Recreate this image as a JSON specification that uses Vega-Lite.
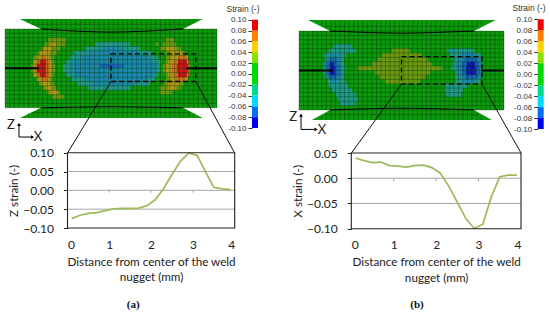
{
"$schema":"https://vega.github.io/schema/vega-lite/v6.json",
"width":550,"height":314,"autosize":"none","padding":0,"background":"white",
"config":{"view":{"stroke":null},"text":{"font":"Lato"},"axis":{"labelFont":"Lato","titleFont":"Lato","labelColor":"#222","titleColor":"#222","grid":false}},
"datasets":{
"meshV":[{"x":-5,"y":-1.86,"y2":1.86},{"x":-4.78,"y":-1.86,"y2":1.86},{"x":-4.56,"y":-1.86,"y2":1.86},{"x":-4.33,"y":-1.86,"y2":1.86},{"x":-4.11,"y":-1.86,"y2":1.86},{"x":-3.89,"y":-1.86,"y2":1.86},{"x":-3.67,"y":-1.86,"y2":1.86},{"x":-3.44,"y":-1.86,"y2":1.86},{"x":-3.22,"y":-2.33,"y2":2.33},{"x":-3,"y":-2.33,"y2":2.33},{"x":-2.78,"y":-2.33,"y2":2.33},{"x":-2.56,"y":-2.33,"y2":2.33},{"x":-2.33,"y":-2.33,"y2":2.33},{"x":-2.11,"y":-2.33,"y2":2.33},{"x":-1.89,"y":-2.33,"y2":2.33},{"x":-1.67,"y":-2.33,"y2":2.33},{"x":-1.44,"y":-2.33,"y2":2.33},{"x":-1.22,"y":-2.33,"y2":2.33},{"x":-1,"y":-2.33,"y2":2.33},{"x":-0.78,"y":-2.33,"y2":2.33},{"x":-0.56,"y":-2.33,"y2":2.33},{"x":-0.33,"y":-2.33,"y2":2.33},{"x":-0.11,"y":-2.33,"y2":2.33},{"x":0.11,"y":-2.33,"y2":2.33},{"x":0.33,"y":-2.33,"y2":2.33},{"x":0.56,"y":-2.33,"y2":2.33},{"x":0.78,"y":-2.33,"y2":2.33},{"x":1,"y":-2.33,"y2":2.33},{"x":1.22,"y":-2.33,"y2":2.33},{"x":1.44,"y":-2.33,"y2":2.33},{"x":1.67,"y":-2.33,"y2":2.33},{"x":1.89,"y":-2.33,"y2":2.33},{"x":2.11,"y":-2.33,"y2":2.33},{"x":2.33,"y":-2.33,"y2":2.33},{"x":2.56,"y":-2.33,"y2":2.33},{"x":2.78,"y":-2.33,"y2":2.33},{"x":3,"y":-2.33,"y2":2.33},{"x":3.22,"y":-2.33,"y2":2.33},{"x":3.44,"y":-1.86,"y2":1.86},{"x":3.67,"y":-1.86,"y2":1.86},{"x":3.89,"y":-1.86,"y2":1.86},{"x":4.11,"y":-1.86,"y2":1.86},{"x":4.33,"y":-1.86,"y2":1.86},{"x":4.56,"y":-1.86,"y2":1.86},{"x":4.78,"y":-1.86,"y2":1.86},{"x":5,"y":-1.86,"y2":1.86},
{"x":-3.44,"y":1.93,"y2":2.33},{"x":-3.67,"y":2.03,"y2":2.33},{"x":-3.89,"y":2.13,"y2":2.33},{"x":3.44,"y":1.93,"y2":2.33},{"x":3.67,"y":2.03,"y2":2.33},{"x":3.89,"y":2.13,"y2":2.33},{"x":-3.44,"y":-2.33,"y2":-1.93},{"x":-3.67,"y":-2.33,"y2":-2.03},{"x":-3.89,"y":-2.33,"y2":-2.13},{"x":3.44,"y":-2.33,"y2":-1.93},{"x":3.67,"y":-2.33,"y2":-2.03},{"x":3.89,"y":-2.33,"y2":-2.13}],
"meshH":[{"y":0.207,"x":-5,"x2":5},{"y":0.414,"x":-5,"x2":5},{"y":0.621,"x":-5,"x2":5},{"y":0.828,"x":-5,"x2":5},{"y":1.035,"x":-5,"x2":5},{"y":1.242,"x":-5,"x2":5},{"y":1.449,"x":-5,"x2":5},{"y":1.656,"x":-5,"x2":5},{"y":1.86,"x":-5,"x2":5},{"y":-0.207,"x":-5,"x2":5},{"y":-0.414,"x":-5,"x2":5},{"y":-0.621,"x":-5,"x2":5},{"y":-0.828,"x":-5,"x2":5},{"y":-1.035,"x":-5,"x2":5},{"y":-1.242,"x":-5,"x2":5},{"y":-1.449,"x":-5,"x2":5},{"y":-1.656,"x":-5,"x2":5},{"y":-1.86,"x":-5,"x2":5},{"y":0,"x":-5,"x2":5},{"y":2.08,"x":-3.75,"x2":3.75},{"y":-2.08,"x":-3.75,"x2":3.75}],
"bands":[{"y":-0.1,"y2":-0.08,"x":0,"x2":1,"s":-0.09},{"y":-0.08,"y2":-0.06,"x":0,"x2":1,"s":-0.07},{"y":-0.06,"y2":-0.04,"x":0,"x2":1,"s":-0.05},{"y":-0.04,"y2":-0.02,"x":0,"x2":1,"s":-0.03},{"y":-0.02,"y2":0.02,"x":0,"x2":1,"s":0},{"y":0.02,"y2":0.04,"x":0,"x2":1,"s":0.03},{"y":0.04,"y2":0.06,"x":0,"x2":1,"s":0.05},{"y":0.06,"y2":0.08,"x":0,"x2":1,"s":0.07},{"y":0.08,"y2":0.1,"x":0,"x2":1,"s":0.09}],
"cellsA":[
{"x":-3.77,"x2":-3.68,"r":"1","s":0.03},{"x":-3.68,"x2":-3.58,"r":"1","s":0.05},{"x":-3.58,"x2":-3.49,"r":"1","s":0.07},{"x":-3.49,"x2":-3.07,"r":"1","s":0.09},{"x":-3.07,"x2":-2.92,"r":"1","s":0.07},{"x":-2.92,"x2":-2.78,"r":"1","s":0.05},{"x":-2.78,"x2":-2.64,"r":"1","s":0.03},
{"x":-3.77,"x2":-3.68,"r":"-1","s":0.03},{"x":-3.68,"x2":-3.58,"r":"-1","s":0.05},{"x":-3.58,"x2":-3.49,"r":"-1","s":0.07},{"x":-3.49,"x2":-3.07,"r":"-1","s":0.09},{"x":-3.07,"x2":-2.92,"r":"-1","s":0.07},{"x":-2.92,"x2":-2.78,"r":"-1","s":0.05},{"x":-2.78,"x2":-2.64,"r":"-1","s":0.03},
{"x":-3.68,"x2":-3.49,"r":"2","s":0.05},{"x":-3.49,"x2":-3.35,"r":"2","s":0.07},{"x":-3.35,"x2":-3.07,"r":"2","s":0.09},{"x":-3.07,"x2":-2.92,"r":"2","s":0.07},{"x":-2.92,"x2":-2.78,"r":"2","s":0.05},{"x":-2.78,"x2":-2.69,"r":"2","s":0.03},
{"x":-3.68,"x2":-3.49,"r":"-2","s":0.05},{"x":-3.49,"x2":-3.35,"r":"-2","s":0.07},{"x":-3.35,"x2":-3.07,"r":"-2","s":0.09},{"x":-3.07,"x2":-2.92,"r":"-2","s":0.07},{"x":-2.92,"x2":-2.78,"r":"-2","s":0.05},{"x":-2.78,"x2":-2.69,"r":"-2","s":0.03},
{"x":-3.68,"x2":-3.49,"r":"3","s":0.03},{"x":-3.49,"x2":-3.3,"r":"3","s":0.05},{"x":-3.3,"x2":-3.07,"r":"3","s":0.07},{"x":-3.07,"x2":-2.88,"r":"3","s":0.05},{"x":-2.88,"x2":-2.69,"r":"3","s":0.03},
{"x":-3.49,"x2":-3.35,"r":"4","s":0.03},{"x":-3.35,"x2":-2.88,"r":"4","s":0.05},{"x":-2.88,"x2":-2.55,"r":"4","s":0.03},
{"x":-3.25,"x2":-3.16,"r":"5","s":0.03},{"x":-3.16,"x2":-2.78,"r":"5","s":0.05},{"x":-2.78,"x2":-2.41,"r":"5","s":0.03},
{"x":-3.11,"x2":-2.88,"r":"6","s":0.03},{"x":-2.88,"x2":-2.59,"r":"6","s":0.05},{"x":-2.59,"x2":-2.17,"r":"6","s":0.03},
{"x":-2.97,"x2":-2.12,"r":"7","s":0.03},
{"x":-3.49,"x2":-3.3,"r":"-3","s":0.05},{"x":-3.3,"x2":-3.02,"r":"-3","s":0.07},{"x":-3.02,"x2":-2.88,"r":"-3","s":0.05},{"x":-2.88,"x2":-2.74,"r":"-3","s":0.03},
{"x":-3.4,"x2":-3.25,"r":"-4","s":0.03},{"x":-3.25,"x2":-2.88,"r":"-4","s":0.05},{"x":-2.88,"x2":-2.69,"r":"-4","s":0.03},
{"x":-3.21,"x2":-3.07,"r":"-5","s":0.03},{"x":-3.07,"x2":-2.74,"r":"-5","s":0.05},{"x":-2.74,"x2":-2.59,"r":"-5","s":0.03},
{"x":-3.02,"x2":-2.88,"r":"-6","s":0.03},{"x":-2.88,"x2":-2.5,"r":"-6","s":0.05},{"x":-2.5,"x2":-2.41,"r":"-6","s":0.03},
{"x":-2.78,"x2":-2.22,"r":"-7","s":0.03},
{"x":-2.26,"x2":-1.93,"r":"1","s":-0.03},{"x":-1.93,"x2":-0.52,"r":"1","s":-0.05},{"x":-0.52,"x2":0.61,"r":"1","s":-0.07},{"x":0.61,"x2":2.08,"r":"1","s":-0.05},{"x":2.08,"x2":2.31,"r":"1","s":-0.03},
{"x":-2.12,"x2":-1.75,"r":"2","s":-0.03},{"x":-1.75,"x2":1.98,"r":"2","s":-0.05},{"x":1.98,"x2":2.31,"r":"2","s":-0.03},
{"x":-1.93,"x2":-1.37,"r":"3","s":-0.03},{"x":-1.37,"x2":1.84,"r":"3","s":-0.05},{"x":1.84,"x2":2.22,"r":"3","s":-0.03},
{"x":-1.75,"x2":-0.99,"r":"4","s":-0.03},{"x":-0.99,"x2":1.37,"r":"4","s":-0.05},{"x":1.37,"x2":1.93,"r":"4","s":-0.03},
{"x":-1.23,"x2":-0.42,"r":"5","s":-0.03},{"x":-0.42,"x2":0.52,"r":"5","s":-0.05},{"x":0.52,"x2":1.37,"r":"5","s":-0.03},
{"x":-0.75,"x2":0.9,"r":"6","s":-0.03},
{"x":-2.26,"x2":-1.84,"r":"-1","s":-0.03},{"x":-1.84,"x2":2.08,"r":"-1","s":-0.05},{"x":2.08,"x2":2.31,"r":"-1","s":-0.03},
{"x":-2.12,"x2":-1.65,"r":"-2","s":-0.03},{"x":-1.65,"x2":1.98,"r":"-2","s":-0.05},{"x":1.98,"x2":2.22,"r":"-2","s":-0.03},
{"x":-1.84,"x2":-1.27,"r":"-3","s":-0.03},{"x":-1.27,"x2":1.75,"r":"-3","s":-0.05},{"x":1.75,"x2":2.12,"r":"-3","s":-0.03},
{"x":-1.56,"x2":-0.9,"r":"-4","s":-0.03},{"x":-0.9,"x2":1.13,"r":"-4","s":-0.05},{"x":1.13,"x2":1.84,"r":"-4","s":-0.03},
{"x":-1.08,"x2":0.9,"r":"-5","s":-0.03},
{"x":2.45,"x2":2.59,"r":"1","s":0.03},{"x":2.59,"x2":2.88,"r":"1","s":0.05},{"x":2.88,"x2":3.11,"r":"1","s":0.07},{"x":3.11,"x2":3.63,"r":"1","s":0.09},{"x":3.63,"x2":3.73,"r":"1","s":0.07},
{"x":2.45,"x2":2.59,"r":"-1","s":0.03},{"x":2.59,"x2":2.88,"r":"-1","s":0.05},{"x":2.88,"x2":3.11,"r":"-1","s":0.07},{"x":3.11,"x2":3.63,"r":"-1","s":0.09},{"x":3.63,"x2":3.73,"r":"-1","s":0.07},
{"x":2.55,"x2":2.69,"r":"2","s":0.03},{"x":2.69,"x2":2.97,"r":"2","s":0.05},{"x":2.97,"x2":3.16,"r":"2","s":0.07},{"x":3.16,"x2":3.58,"r":"2","s":0.09},{"x":3.58,"x2":3.68,"r":"2","s":0.07},
{"x":2.55,"x2":2.69,"r":"-2","s":0.03},{"x":2.69,"x2":2.97,"r":"-2","s":0.05},{"x":2.97,"x2":3.16,"r":"-2","s":0.07},{"x":3.16,"x2":3.58,"r":"-2","s":0.09},{"x":3.58,"x2":3.68,"r":"-2","s":0.07},
{"x":2.59,"x2":2.78,"r":"3","s":0.03},{"x":2.78,"x2":3.16,"r":"3","s":0.05},{"x":3.16,"x2":3.54,"r":"3","s":0.07},{"x":3.54,"x2":3.63,"r":"3","s":0.05},
{"x":2.55,"x2":2.78,"r":"4","s":0.03},{"x":2.78,"x2":3.35,"r":"4","s":0.05},{"x":3.35,"x2":3.49,"r":"4","s":0.03},
{"x":2.31,"x2":2.59,"r":"5","s":0.03},{"x":2.59,"x2":3.07,"r":"5","s":0.05},{"x":3.07,"x2":3.3,"r":"5","s":0.03},
{"x":2.08,"x2":2.22,"r":"6","s":0.03},{"x":2.45,"x2":3.07,"r":"6","s":0.03},
{"x":2.59,"x2":2.97,"r":"7","s":0.03},
{"x":2.59,"x2":2.78,"r":"-3","s":0.03},{"x":2.78,"x2":3.07,"r":"-3","s":0.05},{"x":3.07,"x2":3.49,"r":"-3","s":0.07},{"x":3.49,"x2":3.63,"r":"-3","s":0.05},
{"x":2.5,"x2":2.69,"r":"-4","s":0.03},{"x":2.69,"x2":3.25,"r":"-4","s":0.05},{"x":3.25,"x2":3.44,"r":"-4","s":0.03},
{"x":2.31,"x2":2.69,"r":"-5","s":0.03},{"x":2.69,"x2":3.07,"r":"-5","s":0.05},{"x":3.07,"x2":3.3,"r":"-5","s":0.03},
{"x":2.31,"x2":2.88,"r":"-6","s":0.03}
],
"cellsB":[
{"x":-3.83,"x2":-3.63,"r":"1","s":-0.05},{"x":-3.63,"x2":-3.49,"r":"1","s":-0.07},{"x":-3.49,"x2":-3.24,"r":"1","s":-0.09},{"x":-3.24,"x2":-3.05,"r":"1","s":-0.07},{"x":-3.05,"x2":-2.9,"r":"1","s":-0.05},{"x":-2.9,"x2":-2.75,"r":"1","s":-0.03},
{"x":-3.83,"x2":-3.63,"r":"-1","s":-0.05},{"x":-3.63,"x2":-3.49,"r":"-1","s":-0.07},{"x":-3.49,"x2":-3.24,"r":"-1","s":-0.09},{"x":-3.24,"x2":-3.05,"r":"-1","s":-0.07},{"x":-3.05,"x2":-2.9,"r":"-1","s":-0.05},{"x":-2.9,"x2":-2.75,"r":"-1","s":-0.03},
{"x":-3.78,"x2":-3.63,"r":"2","s":-0.05},{"x":-3.63,"x2":-3.49,"r":"2","s":-0.07},{"x":-3.49,"x2":-3.29,"r":"2","s":-0.09},{"x":-3.29,"x2":-3.1,"r":"2","s":-0.07},{"x":-3.1,"x2":-2.95,"r":"2","s":-0.05},{"x":-2.95,"x2":-2.8,"r":"2","s":-0.03},
{"x":-3.73,"x2":-3.54,"r":"3","s":-0.05},{"x":-3.54,"x2":-3.14,"r":"3","s":-0.07},{"x":-3.14,"x2":-2.95,"r":"3","s":-0.05},{"x":-2.95,"x2":-2.8,"r":"3","s":-0.03},
{"x":-3.78,"x2":-3.44,"r":"4","s":-0.03},{"x":-3.44,"x2":-3.14,"r":"4","s":-0.05},{"x":-3.14,"x2":-2.71,"r":"4","s":-0.03},
{"x":-3.54,"x2":-2.22,"r":"5","s":-0.03},
{"x":-3.29,"x2":-2.41,"r":"6","s":-0.03},
{"x":-3.73,"x2":-3.54,"r":"-2","s":-0.05},{"x":-3.54,"x2":-3.14,"r":"-2","s":-0.07},{"x":-3.14,"x2":-2.95,"r":"-2","s":-0.05},{"x":-2.95,"x2":-2.8,"r":"-2","s":-0.03},
{"x":-3.59,"x2":-3.39,"r":"-3","s":-0.03},{"x":-3.39,"x2":-3.14,"r":"-3","s":-0.05},{"x":-3.14,"x2":-2.75,"r":"-3","s":-0.03},
{"x":-3.54,"x2":-2.61,"r":"-4","s":-0.03},
{"x":-3.39,"x2":-2.41,"r":"-5","s":-0.03},{"x":-3.19,"x2":-2.22,"r":"-6","s":-0.03},{"x":-3.1,"x2":-2.17,"r":"-7","s":-0.03},{"x":-3,"x2":-2.26,"r":"-8","s":-0.03},
{"x":2.46,"x2":2.66,"r":"1","s":-0.03},{"x":2.66,"x2":2.9,"r":"1","s":-0.05},{"x":2.9,"x2":3.15,"r":"1","s":-0.07},{"x":3.15,"x2":3.63,"r":"1","s":-0.09},{"x":3.63,"x2":3.83,"r":"1","s":-0.07},{"x":3.83,"x2":3.93,"r":"1","s":-0.05},
{"x":2.51,"x2":2.66,"r":"2","s":-0.03},{"x":2.66,"x2":2.95,"r":"2","s":-0.05},{"x":2.95,"x2":3.2,"r":"2","s":-0.07},{"x":3.2,"x2":3.59,"r":"2","s":-0.09},{"x":3.59,"x2":3.78,"r":"2","s":-0.07},{"x":3.78,"x2":3.93,"r":"2","s":-0.05},
{"x":2.51,"x2":2.76,"r":"3","s":-0.03},{"x":2.76,"x2":3.05,"r":"3","s":-0.05},{"x":3.05,"x2":3.68,"r":"3","s":-0.07},{"x":3.68,"x2":3.88,"r":"3","s":-0.05},
{"x":2.32,"x2":2.85,"r":"4","s":-0.03},{"x":2.85,"x2":3.63,"r":"4","s":-0.05},{"x":3.63,"x2":3.88,"r":"4","s":-0.03},
{"x":2.22,"x2":3.54,"r":"5","s":-0.03},
{"x":2.61,"x2":2.76,"r":"-1","s":-0.03},{"x":2.76,"x2":2.95,"r":"-1","s":-0.05},{"x":2.95,"x2":3.15,"r":"-1","s":-0.07},{"x":3.15,"x2":3.63,"r":"-1","s":-0.09},{"x":3.63,"x2":3.83,"r":"-1","s":-0.07},{"x":3.83,"x2":3.93,"r":"-1","s":-0.05},
{"x":2.61,"x2":2.8,"r":"-2","s":-0.03},{"x":2.8,"x2":3.1,"r":"-2","s":-0.05},{"x":3.1,"x2":3.73,"r":"-2","s":-0.07},{"x":3.73,"x2":3.88,"r":"-2","s":-0.05},
{"x":2.66,"x2":2.95,"r":"-3","s":-0.03},{"x":2.95,"x2":3.54,"r":"-3","s":-0.05},{"x":3.54,"x2":3.83,"r":"-3","s":-0.03},
{"x":2.17,"x2":3.24,"r":"-4","s":-0.03},{"x":2.12,"x2":3,"r":"-5","s":-0.03},{"x":2.17,"x2":2.9,"r":"-6","s":-0.03},
{"x":-2.12,"x2":1.98,"r":"1","s":0.03},{"x":-1.44,"x2":1.49,"r":"2","s":0.03},{"x":-1.15,"x2":1.29,"r":"3","s":0.03},{"x":-0.95,"x2":1,"r":"4","s":0.03},{"x":-0.46,"x2":0.41,"r":"5","s":0.03},
{"x":-1.29,"x2":1.39,"r":"-1","s":0.03},{"x":-1.05,"x2":1.15,"r":"-2","s":0.03},{"x":-0.8,"x2":0.9,"r":"-3","s":0.03}
]
},
"resolve":{"scale":{"x":"independent","y":"independent","color":"independent"},"axis":{"x":"independent","y":"independent"}},
"layer":[
{"encoding":{"x":{"field":"x","type":"quantitative","scale":{"domain":[-5,5],"range":[5,217]},"axis":null},"y":{"field":"y","type":"quantitative","stack":null,"scale":{"domain":[-2,2],"range":[110.75,25.95]},"axis":null}},
 "layer":[
 {"data":{"values":[{"x":-4.3,"y":2.33,"y2":2.33,"t":"top"},{"x":-3.3,"y":2.33,"y2":1.86,"t":"top"},{"x":3.4,"y":2.33,"y2":1.86,"t":"top"},{"x":4.33,"y":2.33,"y2":2.33,"t":"top"},{"x":-4.3,"y":-2.34,"y2":-2.34,"t":"bot"},{"x":-3.3,"y":-2.34,"y2":-1.86,"t":"bot"},{"x":3.4,"y":-2.34,"y2":-1.86,"t":"bot"},{"x":4.33,"y":-2.34,"y2":-2.34,"t":"bot"}]},"mark":{"type":"area","orient":"vertical","color":"#0c9a0c"},"encoding":{"y2":{"field":"y2"},"detail":{"field":"t"}}},
 {"data":{"values":[{"x":-5,"x2":5,"y":-1.86,"y2":1.86}]},"mark":{"type":"rect","color":"#0c9a0c"},"encoding":{"x2":{"field":"x2"},"y2":{"field":"y2"}}}
 ]},
{"data":{"name":"cellsA"},"mark":{"type":"rect"},"encoding":{"x":{"field":"x","type":"quantitative","scale":{"domain":[-5,5],"range":[5,217]},"axis":null},"x2":{"field":"x2"},"y":{"field":"r","type":"ordinal","scale":{"domain":["9","8","7","6","5","4","3","2","1","-1","-2","-3","-4","-5","-6","-7","-8","-9"],"range":[29,107.7],"paddingInner":0,"paddingOuter":0},"axis":null},"color":{"field":"s","type":"quantitative","legend":null,"scale":{"type":"threshold","domain":[-0.08,-0.06,-0.04,-0.02,0.02,0.04,0.06,0.08],"range":["#0e1ea8","#1868b0","#1b8aa8","#1f9a88","#0c9a0c","#6a9a12","#ae9a14","#c8701a","#c81818"]}}}},
{"encoding":{"x":{"field":"x","type":"quantitative","scale":{"domain":[-5,5],"range":[5,217]},"axis":null},"y":{"field":"y","type":"quantitative","stack":null,"scale":{"domain":[-2,2],"range":[110.75,25.95]},"axis":null}},
 "layer":[
 {"data":{"name":"meshV"},"mark":{"type":"rule","color":"#000","opacity":0.38,"strokeWidth":0.7},"encoding":{"y2":{"field":"y2"}}},
 {"data":{"name":"meshH"},"mark":{"type":"rule","color":"#000","opacity":0.38,"strokeWidth":0.7},"encoding":{"x2":{"field":"x2"}}},
 {"data":{"values":[{"x":-3.3,"y":1.86,"c":"t"},{"x":-1.5,"y":1.75,"c":"t"},{"x":0,"y":1.71,"c":"t"},{"x":1.5,"y":1.75,"c":"t"},{"x":3.4,"y":1.86,"c":"t"},{"x":-3.3,"y":-1.86,"c":"b"},{"x":-1.5,"y":-1.83,"c":"b"},{"x":0,"y":-1.81,"c":"b"},{"x":1.5,"y":-1.83,"c":"b"},{"x":3.4,"y":-1.86,"c":"b"}]},"mark":{"type":"line","color":"#000","strokeWidth":1,"interpolate":"monotone"},"encoding":{"detail":{"field":"c"}}},
 {"data":{"values":[{"x":-5,"x2":-3.4,"y":0},{"x":3.55,"x2":5,"y":0}]},"mark":{"type":"rule","color":"#000","strokeWidth":2},"encoding":{"x2":{"field":"x2"}}},
 {"data":{"values":[{"x":0,"x2":4,"y":-0.62,"y2":0.68}]},"mark":{"type":"rect","fill":null,"stroke":"#000","strokeDash":[5,3],"strokeWidth":1.3},"encoding":{"x2":{"field":"x2"},"y2":{"field":"y2"}}},
 {"data":{"values":[{"x":0,"y":-0.62,"x2":-2.05,"y2":-3.99},{"x":4,"y":-0.62,"x2":5.83,"y2":-3.99}]},"mark":{"type":"rule","color":"#111","strokeWidth":1},"encoding":{"x2":{"field":"x2"},"y2":{"field":"y2"}}},
 {"data":{"values":[{"x":-4.34,"x2":-3.75,"y":-3.24,"y2":-3.24},{"x":-4.34,"x2":-4.34,"y":-3.24,"y2":-2.68}]},"mark":{"type":"rule","color":"#000","strokeWidth":1},"encoding":{"x2":{"field":"x2"},"y2":{"field":"y2"}}},
 {"data":{"values":[{"x":-4.34,"y":-2.64}]},"mark":{"type":"point","shape":"triangle-up","filled":true,"size":14,"color":"#000","opacity":1}},
 {"data":{"values":[{"x":-3.7,"y":-3.24}]},"mark":{"type":"point","shape":"triangle-right","filled":true,"size":14,"color":"#000","opacity":1}},
 {"data":{"values":[{"x":-4.72,"y":-2.67,"t":"Z"},{"x":-3.44,"y":-3.24,"t":"X"}]},"mark":{"type":"text","fontSize":13,"color":"#222","font":"Lato"},"encoding":{"text":{"field":"t"}}}
 ]},
{"data":{"name":"bands"},"encoding":{"x":{"field":"x","type":"quantitative","scale":{"domain":[0,1],"range":[252,258]},"axis":null},"y":{"field":"y","type":"quantitative","stack":null,"scale":{"domain":[-0.1,0.1],"range":[128,19.7]},"axis":{"orient":"left","offset":-252,"values":[-0.1,-0.08,-0.06,-0.04,-0.02,0,0.02,0.04,0.06,0.08,0.1],"format":".2f","labelExpr":"replace(datum.label,'−','-')","title":null,"domain":false,"ticks":true,"tickSize":4,"tickColor":"#333","labelPadding":2,"labelFont":"Liberation Sans","labelFontSize":8,"labelColor":"#333"}}},
 "layer":[
 {"mark":{"type":"rect"},"encoding":{"x2":{"field":"x2"},"y2":{"field":"y2"},"color":{"field":"s","type":"quantitative","legend":null,"scale":{"type":"threshold","domain":[-0.08,-0.06,-0.04,-0.02,0.02,0.04,0.06,0.08],"range":["#0000f0","#0070f0","#00d8ff","#00d890","#00d800","#88e000","#ffd000","#ff7f00","#f00000"]}}}},
 {"data":{"values":[{"x":-1.5,"y":0.1205,"t":"Strain (-)"}]},"mark":{"type":"text","font":"Liberation Sans","fontSize":8.5,"color":"#333"},"encoding":{"text":{"field":"t"}}}
 ]},
{"encoding":{"x":{"field":"x","type":"quantitative","scale":{"domain":[0,4],"range":[67.5,234.7]},"axis":{"orient":"bottom","offset":-86,"values":[0,1,2,3,4],"ticks":false,"domain":false,"labelPadding":11,"labelFontSize":12,"title":["Distance from center of the weld","nugget (mm)"],"titleFontSize":11.7,"titleFontWeight":"normal","titlePadding":6,"titleLineHeight":15.7}},"y":{"field":"y","type":"quantitative","stack":null,"scale":{"domain":[-0.1,0.1],"range":[228,152.7]},"axis":{"orient":"left","offset":-67.5,"values":[-0.1,-0.05,0,0.05,0.1],"format":".2f","title":"Z strain (-)","titleFontSize":11.7,"titleFontWeight":"normal","tickSize":4,"tickColor":"#222","domain":false,"labelPadding":10,"labelFontSize":12,"titlePadding":3}}},
 "layer":[
 {"data":{"values":[{"x":0,"x2":4,"y":-0.05},{"x":0,"x2":4,"y":0},{"x":0,"x2":4,"y":0.05}]},"mark":{"type":"rule","color":"#a6a6a6","strokeWidth":1},"encoding":{"x2":{"field":"x2"}}},
 {"data":{"values":[{"x":1,"y":0,"y2":-0.006},{"x":2,"y":0,"y2":-0.006},{"x":3,"y":0,"y2":-0.006}]},"mark":{"type":"rule","color":"#a6a6a6","strokeWidth":1},"encoding":{"y2":{"field":"y2"}}},
 {"data":{"values":[{"x":0.1,"y":-0.075},{"x":0.3,"y":-0.066},{"x":0.5,"y":-0.061},{"x":0.7,"y":-0.059},{"x":0.9,"y":-0.054},{"x":1.1,"y":-0.049},{"x":1.3,"y":-0.048},{"x":1.5,"y":-0.048},{"x":1.7,"y":-0.047},{"x":1.9,"y":-0.041},{"x":2.1,"y":-0.025},{"x":2.3,"y":0.005},{"x":2.5,"y":0.042},{"x":2.7,"y":0.077},{"x":2.9,"y":0.099},{"x":3.1,"y":0.093},{"x":3.3,"y":0.05},{"x":3.5,"y":0.008},{"x":3.7,"y":0.004},{"x":3.9,"y":0.002}]},"mark":{"type":"line","color":"#9bbb59","strokeWidth":1.7}},
 {"data":{"values":[{"x":0,"x2":4,"y":-0.1,"y2":0.1}]},"mark":{"type":"rect","fill":null,"stroke":"#222","strokeWidth":1.1},"encoding":{"x2":{"field":"x2"},"y2":{"field":"y2"}}},
 {"data":{"values":[{"x":1.57,"y":-0.3045,"t":"(a)"}]},"mark":{"type":"text","font":"Liberation Serif","fontWeight":"bold","fontSize":11,"color":"#111"},"encoding":{"text":{"field":"t"}}}
 ]},

{"encoding":{"x":{"field":"x","type":"quantitative","scale":{"domain":[-5,5],"range":[299,504]},"axis":null},"y":{"field":"y","type":"quantitative","stack":null,"scale":{"domain":[-2,2],"range":[112.9,28.1]},"axis":null}},
 "layer":[
 {"data":{"values":[{"x":-4.56,"y":2.38,"y2":2.38,"t":"top"},{"x":-3.49,"y":2.38,"y2":1.86,"t":"top"},{"x":3.54,"y":2.38,"y2":1.86,"t":"top"},{"x":4.6,"y":2.38,"y2":2.38,"t":"top"},{"x":-4.37,"y":-2.33,"y2":-2.33,"t":"bot"},{"x":-3.49,"y":-2.33,"y2":-1.86,"t":"bot"},{"x":3.54,"y":-2.33,"y2":-1.86,"t":"bot"},{"x":4.41,"y":-2.33,"y2":-2.33,"t":"bot"}]},"mark":{"type":"area","orient":"vertical","color":"#0c9a0c"},"encoding":{"y2":{"field":"y2"},"detail":{"field":"t"}}},
 {"data":{"values":[{"x":-5,"x2":5,"y":-1.86,"y2":1.86}]},"mark":{"type":"rect","color":"#0c9a0c"},"encoding":{"x2":{"field":"x2"},"y2":{"field":"y2"}}}
 ]},
{"data":{"name":"cellsB"},"mark":{"type":"rect"},"encoding":{"x":{"field":"x","type":"quantitative","scale":{"domain":[-5,5],"range":[299,504]},"axis":null},"x2":{"field":"x2"},"y":{"field":"r","type":"ordinal","scale":{"domain":["9","8","7","6","5","4","3","2","1","-1","-2","-3","-4","-5","-6","-7","-8","-9"],"range":[31,110],"paddingInner":0,"paddingOuter":0},"axis":null},"color":{"field":"s","type":"quantitative","legend":null,"scale":{"type":"threshold","domain":[-0.08,-0.06,-0.04,-0.02,0.02,0.04,0.06,0.08],"range":["#0e1ea8","#1868b0","#1b8aa8","#1f9a88","#0c9a0c","#6a9a12","#ae9a14","#c8701a","#c81818"]}}}},
{"encoding":{"x":{"field":"x","type":"quantitative","scale":{"domain":[-5,5],"range":[299,504]},"axis":null},"y":{"field":"y","type":"quantitative","stack":null,"scale":{"domain":[-2,2],"range":[112.9,28.1]},"axis":null}},
 "layer":[
 {"data":{"name":"meshV"},"mark":{"type":"rule","color":"#000","opacity":0.38,"strokeWidth":0.7},"encoding":{"y2":{"field":"y2"}}},
 {"data":{"name":"meshH"},"mark":{"type":"rule","color":"#000","opacity":0.38,"strokeWidth":0.7},"encoding":{"x2":{"field":"x2"}}},
 {"data":{"values":[{"x":-3.49,"y":1.86,"c":"t"},{"x":-1.5,"y":1.79,"c":"t"},{"x":0,"y":1.76,"c":"t"},{"x":1.5,"y":1.79,"c":"t"},{"x":3.54,"y":1.86,"c":"t"},{"x":-3.49,"y":-1.86,"c":"b"},{"x":-1.5,"y":-1.8,"c":"b"},{"x":0,"y":-1.78,"c":"b"},{"x":1.5,"y":-1.8,"c":"b"},{"x":3.54,"y":-1.86,"c":"b"}]},"mark":{"type":"line","color":"#000","strokeWidth":1,"interpolate":"monotone"},"encoding":{"detail":{"field":"c"}}},
 {"data":{"values":[{"x":-5,"x2":-3.35,"y":0},{"x":3.9,"x2":5,"y":0}]},"mark":{"type":"rule","color":"#000","strokeWidth":2},"encoding":{"x2":{"field":"x2"}}},
 {"data":{"values":[{"x":0,"x2":3.93,"y":-0.64,"y2":0.65}]},"mark":{"type":"rect","fill":null,"stroke":"#000","strokeDash":[5,3],"strokeWidth":1.3},"encoding":{"x2":{"field":"x2"},"y2":{"field":"y2"}}},
 {"data":{"values":[{"x":0,"y":-0.64,"x2":-2.44,"y2":-3.89},{"x":3.93,"y":-0.64,"x2":5.83,"y2":-3.89}]},"mark":{"type":"rule","color":"#111","strokeWidth":1},"encoding":{"x2":{"field":"x2"},"y2":{"field":"y2"}}},
 {"data":{"values":[{"x":-4.9,"x2":-4.25,"y":-2.78,"y2":-2.78},{"x":-4.9,"x2":-4.9,"y":-2.78,"y2":-2.15}]},"mark":{"type":"rule","color":"#000","strokeWidth":1},"encoding":{"x2":{"field":"x2"},"y2":{"field":"y2"}}},
 {"data":{"values":[{"x":-4.9,"y":-2.1}]},"mark":{"type":"point","shape":"triangle-up","filled":true,"size":14,"color":"#000","opacity":1}},
 {"data":{"values":[{"x":-4.17,"y":-2.78}]},"mark":{"type":"point","shape":"triangle-right","filled":true,"size":14,"color":"#000","opacity":1}},
 {"data":{"values":[{"x":-5.29,"y":-2.19,"t":"Z"},{"x":-3.88,"y":-2.81,"t":"X"}]},"mark":{"type":"text","fontSize":13,"color":"#222","font":"Lato"},"encoding":{"text":{"field":"t"}}}
 ]},
{"data":{"name":"bands"},"encoding":{"x":{"field":"x","type":"quantitative","scale":{"domain":[0,1],"range":[537.7,543.7]},"axis":null},"y":{"field":"y","type":"quantitative","stack":null,"scale":{"domain":[-0.1,0.1],"range":[129,19.3]},"axis":{"orient":"left","offset":-537.7,"values":[-0.1,-0.08,-0.06,-0.04,-0.02,0,0.02,0.04,0.06,0.08,0.1],"format":".2f","labelExpr":"replace(datum.label,'−','-')","title":null,"domain":false,"ticks":true,"tickSize":4,"tickColor":"#333","labelPadding":2,"labelFont":"Liberation Sans","labelFontSize":8,"labelColor":"#333"}}},
 "layer":[
 {"mark":{"type":"rect"},"encoding":{"x2":{"field":"x2"},"y2":{"field":"y2"},"color":{"field":"s","type":"quantitative","legend":null,"scale":{"type":"threshold","domain":[-0.08,-0.06,-0.04,-0.02,0.02,0.04,0.06,0.08],"range":["#0000f0","#0070f0","#00d8ff","#00d890","#00d800","#88e000","#ffd000","#ff7f00","#f00000"]}}}},
 {"data":{"values":[{"x":-1.45,"y":0.1205,"t":"Strain (-)"}]},"mark":{"type":"text","font":"Liberation Sans","fontSize":8.5,"color":"#333"},"encoding":{"text":{"field":"t"}}}
 ]},
{"encoding":{"x":{"field":"x","type":"quantitative","scale":{"domain":[0,4],"range":[351.3,521]},"axis":{"orient":"bottom","offset":-85.3,"values":[0,1,2,3,4],"ticks":false,"domain":false,"labelPadding":11,"labelFontSize":12,"title":["Distance from center of the weld","nugget (mm)"],"titleFontSize":11.7,"titleFontWeight":"normal","titlePadding":6,"titleLineHeight":15.7}},"y":{"field":"y","type":"quantitative","stack":null,"scale":{"domain":[-0.1,0.05],"range":[228.7,153]},"axis":{"orient":"left","offset":-351.3,"values":[-0.1,-0.05,0,0.05],"format":".2f","title":"X strain (-)","titleFontSize":11.7,"titleFontWeight":"normal","tickSize":4,"tickColor":"#222","domain":false,"labelPadding":10,"labelFontSize":12,"titlePadding":3}}},
 "layer":[
 {"data":{"values":[{"x":0,"x2":4,"y":-0.05},{"x":0,"x2":4,"y":0}]},"mark":{"type":"rule","color":"#a6a6a6","strokeWidth":1},"encoding":{"x2":{"field":"x2"}}},
 {"data":{"values":[{"x":1,"y":0,"y2":-0.006},{"x":2,"y":0,"y2":-0.006},{"x":3,"y":0,"y2":-0.006}]},"mark":{"type":"rule","color":"#a6a6a6","strokeWidth":1},"encoding":{"y2":{"field":"y2"}}},
 {"data":{"values":[{"x":0.1,"y":0.04},{"x":0.3,"y":0.035},{"x":0.5,"y":0.031},{"x":0.7,"y":0.032},{"x":0.9,"y":0.025},{"x":1.1,"y":0.024},{"x":1.3,"y":0.022},{"x":1.5,"y":0.025},{"x":1.7,"y":0.026},{"x":1.9,"y":0.021},{"x":2.1,"y":0.01},{"x":2.3,"y":-0.016},{"x":2.5,"y":-0.048},{"x":2.7,"y":-0.08},{"x":2.9,"y":-0.0995},{"x":3.1,"y":-0.091},{"x":3.3,"y":-0.037},{"x":3.5,"y":0.003},{"x":3.7,"y":0.006},{"x":3.9,"y":0.006}]},"mark":{"type":"line","color":"#9bbb59","strokeWidth":1.7}},
 {"data":{"values":[{"x":0,"x2":4,"y":-0.1,"y2":0.05}]},"mark":{"type":"rect","fill":null,"stroke":"#222","strokeWidth":1.1},"encoding":{"x2":{"field":"x2"},"y2":{"field":"y2"}}},
 {"data":{"values":[{"x":1.55,"y":-0.251,"t":"(b)"}]},"mark":{"type":"text","font":"Liberation Serif","fontWeight":"bold","fontSize":11,"color":"#111"},"encoding":{"text":{"field":"t"}}}
 ]}
]
}
